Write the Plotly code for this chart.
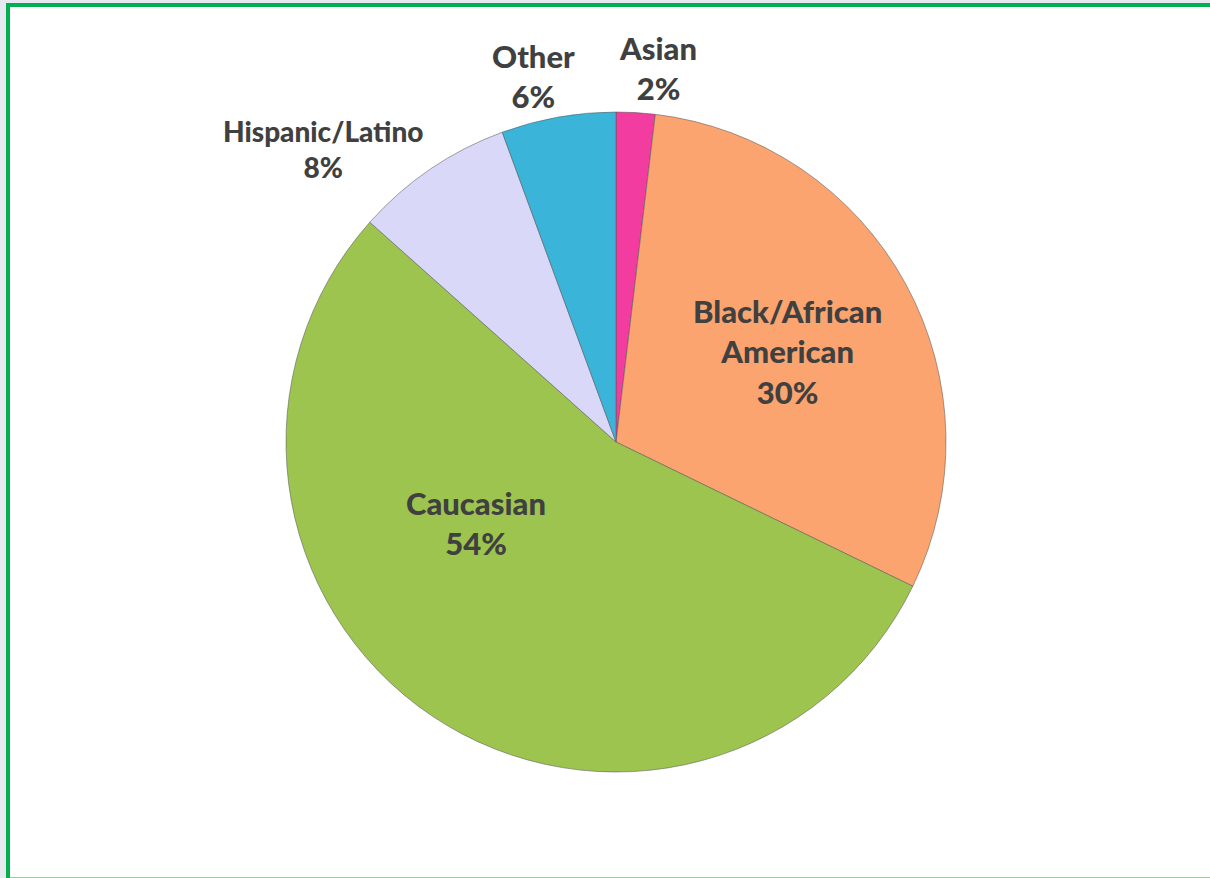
import plotly.graph_objects as go

categories = ["Asian", "Black/African American", "Caucasian", "Hispanic/Latino", "Other"]
display_labels = ["Asian", "Black/African<br>American", "Caucasian", "Hispanic/Latino", "Other"]
values = [1.9, 30.3, 54.4, 7.8, 5.6]
colors = ["#f23c9f", "#fba46f", "#9cc44f", "#d9d8f8", "#3ab5d9"]

W, H = 1210, 878
cx, cy, r = 616, 442, 330

# label anchor points (pixels) and font sizes, layout only
label_pos = [(658, 68), (787, 351), (476, 523), (323, 149), (533, 76)]
label_size = [31, 31, 31, 28, 31]

fig = go.Figure(go.Pie(
    labels=categories,
    values=values,
    textinfo="none",
    sort=False,
    direction="clockwise",
    rotation=0,
    marker=dict(colors=colors, line=dict(color="rgba(90,90,90,0.55)", width=1)),
    hoverinfo="skip",
    showlegend=False,
    domain=dict(x=[(cx - r) / W, (cx + r) / W], y=[(H - cy - r) / H, (H - cy + r) / H]),
))

total = sum(values)
annotations = []
for lab, v, (px, py), fs in zip(display_labels, values, label_pos, label_size):
    annotations.append(dict(
        x=px / W, y=1 - py / H, xref="paper", yref="paper",
        text=f"{lab}<br>{round(100 * v / total)}%",
        showarrow=False, xanchor="center", yanchor="middle", align="center",
        font=dict(family="Lato", size=fs, color="#404040", weight=900),
    ))

fig.update_layout(
    width=W, height=H,
    margin=dict(l=0, r=0, t=0, b=0),
    paper_bgcolor="#e6e9f0",
    plot_bgcolor="white",
    annotations=annotations,
    shapes=[dict(
        type="rect", xref="paper", yref="paper",
        x0=8 / W, x1=1.01, y0=-1.5 / H, y1=1 - 5 / H,
        line=dict(color="#00b050", width=4),
        fillcolor="white", layer="below",
    )],
)

fig.write_html("out.html", config={"displayModeBar": False},
               post_script="document.body.style.margin='0';")
